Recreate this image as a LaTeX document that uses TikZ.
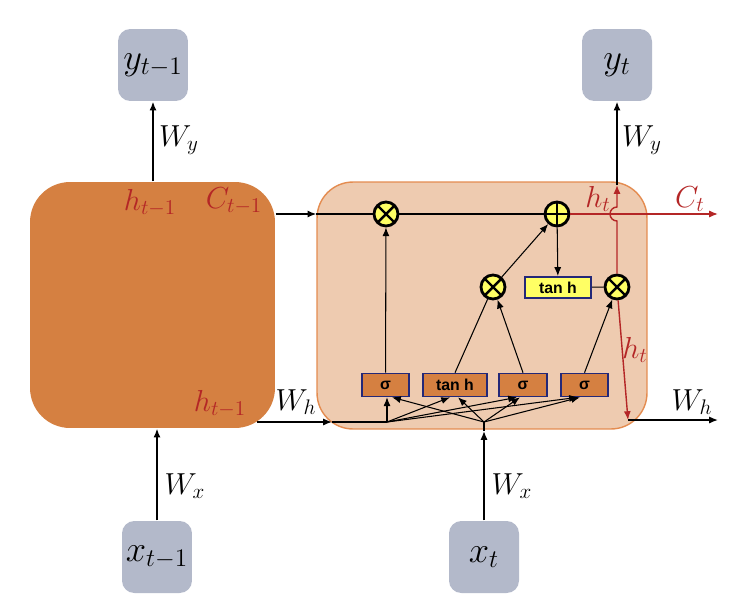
\documentclass[tikz,border=0pt]{standalone}
\usepackage{amsmath}
\usepackage{fontspec}
\newfontfamily\gatefont{Liberation Sans}
\usetikzlibrary{arrows.meta,positioning,calc}

\definecolor{cellorange}{RGB}{213,128,65}
\definecolor{cellpeach}{RGB}{238,203,176}
\definecolor{celledge}{RGB}{228,140,80}
\definecolor{iogray}{RGB}{179,185,202}
\definecolor{hred}{RGB}{180,38,38}
\definecolor{gateyellow}{RGB}{255,255,100}
\definecolor{gateblue}{RGB}{35,40,120}

\tikzset{
  io/.style={fill=iogray, rounded corners=7pt, minimum width=1.4cm, minimum height=1.44cm, inner sep=0pt, font=\huge},
  gatebox/.style={fill=cellorange, draw=gateblue, line width=0.9pt, minimum height=0.46cm, inner sep=0pt, font=\gatefont\bfseries\small},
  tanhbox/.style={fill=gateyellow, draw=gateblue, line width=1.2pt, minimum width=1.32cm, minimum height=0.42cm, inner sep=0pt, font=\gatefont\bfseries\small},
  mult/.style={circle, fill=gateyellow, draw=black, line width=1.6pt, minimum size=0.48cm, inner sep=0pt,
    path picture={\draw[line width=1.4pt] (path picture bounding box.north west) -- (path picture bounding box.south east)
      (path picture bounding box.north east) -- (path picture bounding box.south west);}},
  add/.style={circle, fill=gateyellow, draw=black, line width=1.6pt, minimum size=0.48cm, inner sep=0pt,
    path picture={\draw[line width=1.4pt] (path picture bounding box.north) -- (path picture bounding box.south)
      (path picture bounding box.east) -- (path picture bounding box.west);}},
  lbl/.style={font=\LARGE},
  redlbl/.style={font=\LARGE, text=hred},
}

\begin{document}
\begin{tikzpicture}[x=0.02cm,y=-0.02cm,>={Latex[length=5pt,width=4pt]},line width=0.8pt]
  \useasboundingbox (0,0) rectangle (736,605);

  % the two cells
  \node[fill=cellorange, rounded corners=0.8cm, minimum width=4.9cm, minimum height=4.92cm] (prev) at (152.5,305) {};
  \node[fill=cellpeach, draw=celledge, rounded corners=0.72cm, minimum width=6.6cm, minimum height=4.94cm] (cell) at (482,305.5) {};

  \node[io] (yp) at (153,65) {$y_{t-1}$};
  \node[io] (yt) at (617,65) {$y_t$};
  \node[io] (xp) at (157,557) {$x_{t-1}$};
  \node[io] (xt) at (484,557) {$x_t$};

  % gates
  \node[mult] (m1) at (386,214) {};
  \node[add] (a1) at (557,214) {};
  \node[mult] (m2) at (493,287) {};
  \node[mult] (m3) at (617,287) {};
  \node[tanhbox] (th) at (558,287.5) {tan h};
  \node[gatebox, minimum width=0.94cm] (s1) at (385.5,385) {σ};
  \node[gatebox, minimum width=1.28cm] (g) at (455,385) {tan h};
  \node[gatebox, minimum width=0.96cm] (s2) at (523,385) {σ};
  \node[gatebox, minimum width=0.94cm] (s3) at (584.5,385) {σ};

  \coordinate (hout) at (257,422);
  \coordinate (hin) at (332,422);
  \coordinate (jl) at (387,422);
  \coordinate (jc) at (484,422);
  \coordinate (xin) at (484,431);
  \coordinate (hup) at (617,185);
  \coordinate (hdown) at (628,420);
  \coordinate (hend) at (718,420);
  \coordinate (cend) at (718,214);

  % outer connections
  \draw[->] (prev.north -| yp) -- (yp);
  \draw[->] (hup) -- (yt);
  \draw[->] (xp) -- (xp |- prev.south);
  \draw[->] (xt) -- (xin);
  \draw (xin) -- (jc);
  \draw[->] (prev.east |- m1) -- (cell.west |- m1);
  \draw (cell.west |- m1) -- (m1);
  \draw[->] (hout) -- (hin);
  \draw (hin) -- (jl);
  \draw[->] (hdown) -- (hend);

  % inside the cell
  \begin{scope}[line width=0.6pt]
    \draw[->] (jl) -- (jl |- s1.south);
    \draw[->] (jc) -- ($(s1.south)+(6.5,0)$);
    \foreach \gt/\dl/\dc in {g/-5/3, s2/-6/-3, s3/-6.5/-4.5} {
      \draw[->] (jl) -- ($(\gt.south)+(\dl,0)$);
      \draw[->] (jc) -- ($(\gt.south)+(\dc,0)$);
    }
    \draw[->] (s1) -- (m1);
    \draw (g.north) -- (m2);
    \draw[->] (s2.north) -- (m2);
    \draw[->] (s3.north) -- (m3);
    \draw[->] (m2) -- (a1);
    \draw[->] (a1) -- (th);
    \draw (th) -- (m3);
  \end{scope}
  \draw (m1) -- (a1);
  \draw[hred,->] (a1) -- (cend);
  \draw[hred,->] (m3.north) -- ($(m3 |- a1)+(0,7)$) arc[start angle=270, end angle=90, radius=0.14cm] -- (hup);
  \draw[hred,->] (m3) -- (hdown);

  % labels
  \node[redlbl] (hpt) at (150,203) {$h_{t-1}$};
  \node[redlbl] (cpt) at (234,201) {$C_{t-1}$};
  \node[redlbl] (hpb) at (220,404) {$h_{t-1}$};
  \node[redlbl] (htt) at (598,199) {$h_t$};
  \node[redlbl] (ctl) at (690,199) {$C_t$};
  \node[redlbl] (htr) at (635,350) {$h_t$};
  \node[lbl] (wyl) at (179,140) {$W_y$};
  \node[lbl] (wyr) at (642,140) {$W_y$};
  \node[lbl] (wxl) at (185,486) {$W_x$};
  \node[lbl] (wxr) at (512,486) {$W_x$};
  \node[lbl] (whl) at (296,402) {$W_h$};
  \node[lbl] (whr) at (692,402) {$W_h$};
\end{tikzpicture}
\end{document}
